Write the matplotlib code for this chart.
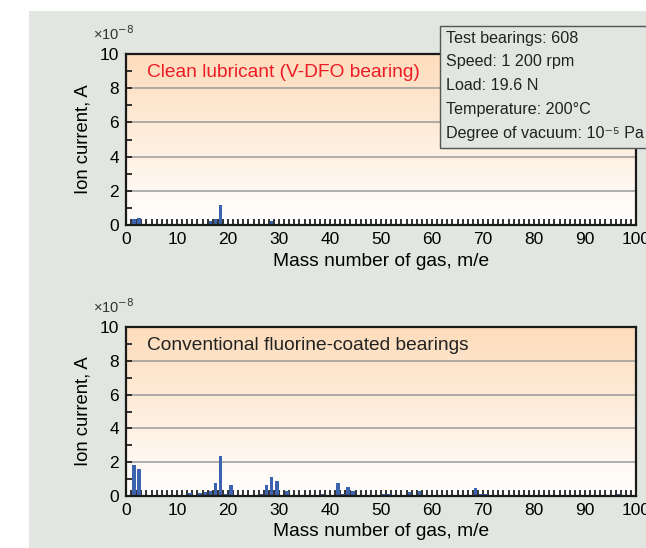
import matplotlib

matplotlib.use("Agg")
import matplotlib.pyplot as plt  # noqa: E402
import numpy as np  # noqa: E402
from matplotlib.colors import LinearSegmentedColormap  # noqa: E402
from matplotlib.patches import Rectangle  # noqa: E402
from matplotlib.ticker import MultipleLocator  # noqa: E402

plt.rcParams["font.family"] = ["Liberation Sans", "DejaVu Sans"]

# ion current (x1e-8 A) per mass number
clean_mass = [1, 2, 16, 17, 18, 28]
clean_current = [0.35, 0.41, 0.25, 0.35, 1.17, 0.25]

conv_mass = [1, 2, 12, 14, 15, 16, 17, 18, 19, 20, 26, 27, 28, 29, 31, 38,
             41, 42, 43, 44, 50, 51, 55, 57, 68, 69, 70, 96]
conv_current = [1.85, 1.6, 0.2, 0.2, 0.22, 0.3, 0.77, 2.38, 0.14, 0.67, 0.14,
                0.67, 1.12, 0.89, 0.3, 0.14, 0.77, 0.14, 0.53, 0.3, 0.14, 0.14,
                0.24, 0.3, 0.47, 0.14, 0.14, 0.14]

panel_titles = ["Clean lubricant (V-DFO bearing)", "Conventional fluorine-coated bearings"]
title_colors = ["#ee1c25", "#222222"]

conditions = ["Test bearings: 608", "Speed: 1 200 rpm", "Load: 19.6 N",
              "Temperature: 200\u00b0C", "Degree of vacuum: 10\u207b\u2075 Pa"]

BAR_COLOR = "#3b63b0"
PANEL_BG = "#e1e6e0"
grad = LinearSegmentedColormap.from_list("peach", ["#ffffff", "#fddcbb"])

W, H = 646, 548
fig = plt.figure(figsize=(W / 100, H / 100), dpi=100)
fig.patch.set_facecolor("white")
fig.patches.append(Rectangle((29 / W, 0), 1, 1 - 11 / H, transform=fig.transFigure,
                             facecolor=PANEL_BG, edgecolor="none", zorder=-10))

ax_rects = [(126, 54, 636, 225), (126, 327, 636, 496)]
datasets = [(clean_mass, clean_current), (conv_mass, conv_current)]

for i, ((l, t, r, b), (mass, cur)) in enumerate(zip(ax_rects, datasets)):
    ax = fig.add_axes([l / W, 1 - b / H, (r - l) / W, (b - t) / H])
    ax.set_xlim(0, 100)
    ax.set_ylim(0, 10)
    g = np.linspace(0, 1, 256).reshape(-1, 1)
    ax.imshow(g, cmap=grad, origin="lower", extent=[0, 1, 0, 1], aspect="auto",
              transform=ax.transAxes, zorder=0)
    for yv in (2, 4, 6, 8):
        ax.axhline(yv, color="#9a9a9a", lw=1.1, zorder=1)
    ax.bar(np.array(mass) + 0.2, cur, width=0.72, align="edge", color=BAR_COLOR,
           zorder=2)
    ax.xaxis.set_major_locator(MultipleLocator(10))
    ax.xaxis.set_minor_locator(MultipleLocator(1))
    ax.yaxis.set_major_locator(MultipleLocator(2))
    ax.yaxis.set_minor_locator(MultipleLocator(1))
    ax.tick_params(which="both", direction="in", top=False, right=False,
                   labelsize=12.5, width=1.3, color="#222222")
    ax.tick_params(which="major", length=4, pad=5)
    ax.tick_params(which="minor", length=4)
    for s in ax.spines.values():
        s.set_color("#1a1a1a")
        s.set_linewidth(1.6)
    ax.set_xlabel("Mass number of gas, m/e", fontsize=13.8, labelpad=4)
    ax.set_ylabel("Ion current, A", fontsize=13.3, labelpad=6)
    ax.text(0.041, 0.89, panel_titles[i], transform=ax.transAxes, fontsize=13.8,
            color=title_colors[i], va="center", ha="left", zorder=3)
    ax.text(-0.025, 1.12, "\u00d710$^{-8}$", transform=ax.transAxes, fontsize=10.5,
            ha="center", va="center", color="#333333")

# test-condition box over the upper right corner
fig.patches.append(Rectangle((440 / W, 1 - 148 / H), 0.5, 122 / H,
                             transform=fig.transFigure, facecolor=PANEL_BG,
                             edgecolor="#555555", lw=1.0, zorder=10))
for k, line in enumerate(conditions):
    fig.text(446 / W, 1 - (38 + 23.8 * k) / H, line, fontsize=11.6,
             ha="left", va="center", color="#222222", zorder=11)

fig.savefig("out.png", dpi=100)
